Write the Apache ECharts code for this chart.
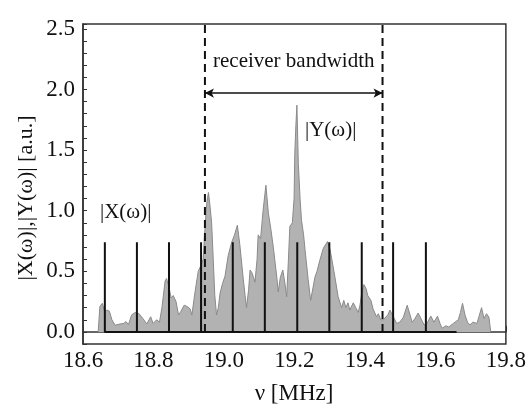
<!DOCTYPE html>
<html><head><meta charset="utf-8">
<script src="https://cdn.jsdelivr.net/npm/echarts@6/dist/echarts.min.js"></script>
<style>html,body{margin:0;padding:0;background:#fff}#c{width:529px;height:408px}</style>
</head><body><div id="c"></div>
<script>
// |Y(omega)| received spectrum (grey area)
const yFreq = [18.643,18.648,18.655,18.661,18.668,18.675,18.682,18.691,18.705,18.716,18.722,18.729,18.738,18.748,18.759,18.770,18.781,18.792,18.799,18.809,18.817,18.824,18.833,18.837,18.844,18.850,18.856,18.864,18.871,18.878,18.887,18.895,18.904,18.909,18.918,18.927,18.935,18.941,18.946,18.951,18.956,18.960,18.965,18.970,18.974,18.979,18.984,18.989,18.996,19.003,19.012,19.022,19.030,19.038,19.045,19.055,19.060,19.064,19.070,19.074,19.079,19.084,19.088,19.094,19.097,19.104,19.111,19.119,19.126,19.133,19.140,19.150,19.154,19.160,19.167,19.173,19.178,19.183,19.187,19.194,19.199,19.201,19.204,19.207,19.211,19.216,19.220,19.226,19.230,19.239,19.246,19.253,19.258,19.264,19.272,19.282,19.294,19.301,19.306,19.315,19.324,19.334,19.340,19.346,19.352,19.357,19.367,19.374,19.381,19.386,19.391,19.397,19.403,19.408,19.417,19.423,19.433,19.438,19.445,19.452,19.457,19.465,19.471,19.478,19.490,19.499,19.509,19.520,19.528,19.534,19.542,19.551,19.559,19.568,19.576,19.587,19.596,19.606,19.613,19.619,19.630,19.638,19.651,19.665,19.671,19.677,19.684,19.691,19.698,19.706,19.718,19.731,19.738,19.745,19.752,19.757];
const yAmp  = [0,0.21,0.236,0.17,0.18,0.17,0.10,0.055,0.065,0.07,0.085,0.06,0.14,0.16,0.15,0.11,0.065,0.125,0.07,0.10,0.08,0.20,0.42,0.44,0.37,0.28,0.30,0.25,0.14,0.17,0.22,0.21,0.19,0.14,0.33,0.50,0.55,0.60,0.85,1.06,1.15,1.05,0.90,0.57,0.30,0.14,0.20,0.32,0.40,0.46,0.63,0.74,0.80,0.88,0.72,0.43,0.30,0.20,0.35,0.51,0.49,0.45,0.41,0.60,0.80,0.77,1.00,1.21,0.98,0.85,0.70,0.45,0.33,0.45,0.51,0.40,0.29,0.60,0.87,0.90,1.10,1.47,1.70,1.87,1.39,1.10,0.92,0.80,0.68,0.43,0.26,0.37,0.45,0.50,0.59,0.69,0.745,0.68,0.60,0.45,0.29,0.20,0.26,0.20,0.24,0.18,0.24,0.20,0.16,0.22,0.32,0.39,0.36,0.30,0.26,0.19,0.125,0.15,0.10,0.10,0.11,0.14,0.18,0.14,0.07,0.08,0.12,0.22,0.14,0.08,0.11,0.155,0.11,0.057,0.07,0.13,0.08,0.13,0.07,0.03,0.05,0.04,0.07,0.10,0.16,0.236,0.14,0.08,0.057,0.08,0.07,0.20,0.11,0.15,0.12,0];

// |X(omega)| transmitted comb (black sticks)
const xPeakFreq = [18.662,18.753,18.844,18.935,19.025,19.116,19.208,19.299,19.391,19.480,19.573];
const xPeakAmp  = [0.74,0.74,0.74,0.74,0.74,0.74,0.74,0.74,0.74,0.74,0.74];
const xBaseEnd  = 19.66;

// receiver bandwidth edges and arrow level
const bandEdges = [18.946, 19.45];
const bandArrowLevel = 1.97;

// axes
const xMin = 18.6, xMax = 19.8, xStep = 0.2;
const yMin = -0.1, yMax = 2.54, yStep = 0.1;

const areaData = yFreq.map((f, i) => [f, yAmp[i]]);
const stickData = [];
xPeakFreq.forEach((f, i) => { stickData.push([f, 0], [f, xPeakAmp[i]], [f, 0]); });
stickData.push([xBaseEnd, 0]);

const serif = '"Liberation Serif","DejaVu Serif",serif';
const ink = '#111';
const chart = echarts.init(document.getElementById('c'), null, {renderer: 'canvas'});
chart.setOption({
  animation: false,
  backgroundColor: '#fff',
  grid: {left: 83, right: 22, top: 24, bottom: 64, show: true, borderColor: '#333', borderWidth: 1.5, backgroundColor: 'transparent'},
  xAxis: {
    type: 'value', min: xMin, max: xMax, interval: xStep,
    axisLine: {show: true, lineStyle: {color: '#333', width: 1.5}},
    axisTick: {show: true, inside: true, length: 6, lineStyle: {color: '#333', width: 1}},
    minorTick: {show: true, splitNumber: 4, length: 3, lineStyle: {color: '#333', width: 1}},
    splitLine: {show: false},
    axisLabel: {color: ink, fontFamily: serif, fontSize: 23, margin: 5, formatter: v => v.toFixed(1)}
  },
  yAxis: {
    type: 'value', min: yMin, max: yMax, interval: yStep,
    axisLine: {show: true, lineStyle: {color: '#333', width: 1.5}},
    axisTick: {show: true, inside: true, length: 4, lineStyle: {color: '#333', width: 1}},
    splitLine: {show: false},
    axisLabel: {color: ink, fontFamily: serif, fontSize: 23, margin: 8,
      formatter: v => (Math.abs(v * 2 - Math.round(v * 2)) < 1e-6 && v > -0.01 && v < 2.51) ? v.toFixed(1) : ''}
  },
  series: [
    {type: 'line', data: areaData, showSymbol: false, symbol: 'none', z: 2,
     lineStyle: {color: '#8a8a8a', width: 1}, areaStyle: {color: '#b2b2b2', opacity: 1}},
    {type: 'line', data: stickData, showSymbol: false, symbol: 'none', z: 3,
     lineStyle: {color: '#111', width: 2}},
    {type: 'line', data: [[bandEdges[0], 0], [bandEdges[0], yMax]], showSymbol: false, symbol: 'none', z: 4,
     lineStyle: {color: '#111', width: 2, type: [8, 5]}},
    {type: 'line', data: [[bandEdges[1], 0], [bandEdges[1], yMax]], showSymbol: false, symbol: 'none', z: 4,
     lineStyle: {color: '#111', width: 2, type: [8, 5]},
     markLine: {silent: true, symbol: ['arrow', 'arrow'], symbolSize: [7, 9],
       lineStyle: {color: '#111', width: 1.5, type: 'solid'}, label: {show: false},
       data: [[{coord: [bandEdges[0], bandArrowLevel]}, {coord: [bandEdges[1], bandArrowLevel]}]]}}
  ],
  graphic: [
    {type: 'text', left: 213, top: 51, style: {text: 'receiver bandwidth', font: '21px ' + serif, fill: ink}},
    {type: 'text', left: 305, top: 120, style: {text: '|Y(ω)|', font: '21px ' + serif, fill: ink}},
    {type: 'text', left: 100, top: 202, style: {text: '|X(ω)|', font: '21px ' + serif, fill: ink}},
    {type: 'text', x: 294, y: 394, style: {text: 'ν [MHz]', font: '23px ' + serif, fill: ink, align: 'center', verticalAlign: 'middle'}},
    {type: 'text', x: 26, y: 198, rotation: Math.PI / 2, style: {text: '|X(ω)|,|Y(ω)| [a.u.]', font: '22px ' + serif, fill: ink, align: 'center', verticalAlign: 'middle'}}
  ]
});
</script></body></html>
